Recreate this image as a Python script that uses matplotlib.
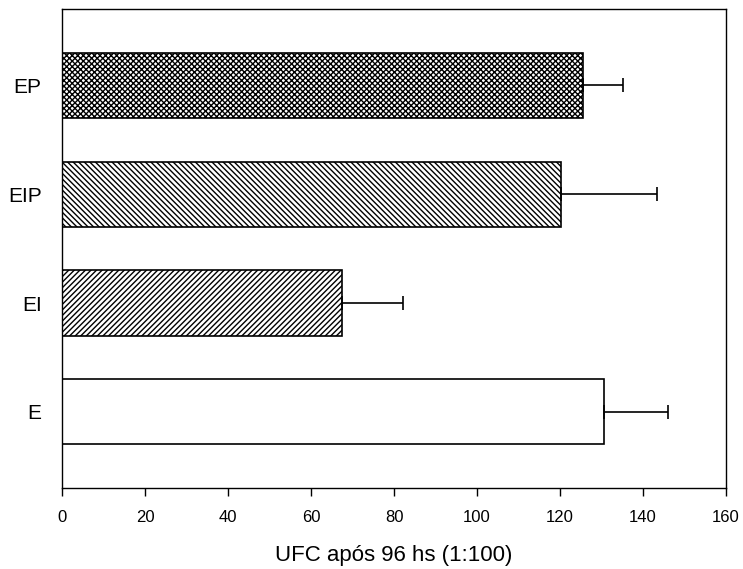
import matplotlib
matplotlib.use("Agg")
import matplotlib.pyplot as plt

plt.rcParams['font.family'] = ['Liberation Sans', 'DejaVu Sans']
plt.rcParams['hatch.linewidth'] = 1.0

# Treatment groups, bottom to top
groups = ['E', 'EI', 'EIP', 'EP']
means = [130.7, 67.5, 120.2, 125.5]
errors = [15.3, 14.6, 23.1, 9.7]
hatches = ['', '//////', '\\\\\\\\\\\\', 'xxxxxx']

fig = plt.figure(figsize=(7.43, 5.69), dpi=100)
ax = fig.add_axes([0.0839, 0.1424, 0.8931, 0.8413])

y = range(len(groups))
for yi, m, e, h in zip(y, means, errors, hatches):
    ax.barh(yi, m, height=0.6, color='white', edgecolor='black',
            linewidth=1.2, hatch=h, zorder=2)
    ax.errorbar(m, yi, xerr=[[0], [e]], fmt='none', ecolor='black',
                elinewidth=1.2, capsize=5, capthick=1.2, zorder=3)

ax.set_xlim(0, 160)
ax.set_ylim(-0.7, 3.7)
ax.set_xticks(range(0, 161, 20))
ax.set_yticks(list(y))
ax.set_yticklabels(groups, fontsize=15)
ax.tick_params(axis='y', length=0, pad=15)
ax.tick_params(axis='x', direction='out', length=6, width=1, labelsize=12, pad=10)
for s in ax.spines.values():
    s.set_linewidth(1.0)

ax.set_xlabel('UFC após 96 hs (1:100)', fontsize=16, labelpad=14)

fig.savefig('out.png', dpi=100)
